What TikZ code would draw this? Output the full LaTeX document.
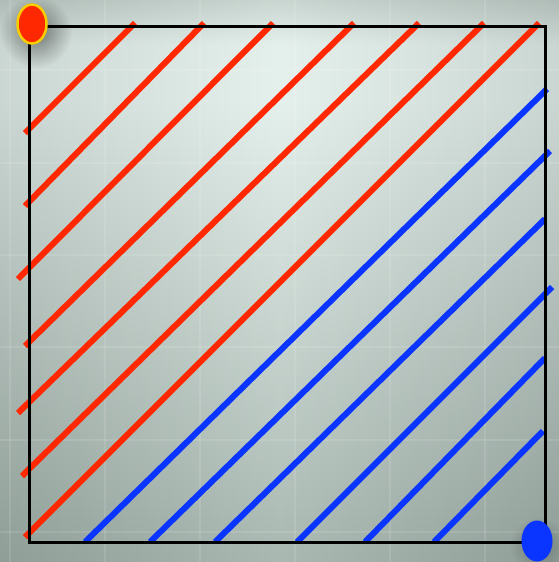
\documentclass[tikz,border=0pt]{standalone}
\usepackage{tikz}
\usepackage{xcolor}
\usetikzlibrary{fadings, shapes.geometric}
\definecolor{hatchRed}{RGB}{255,40,0}
\definecolor{hatchBlue}{RGB}{10,52,255}
\definecolor{bgTop}{RGB}{196,210,204}
\definecolor{bgLight}{RGB}{226,239,234}
\definecolor{bgBottom}{RGB}{160,176,169}
\definecolor{dotYellow}{RGB}{245,205,0}
\tikzfading[name=softout, inner color=transparent!0, outer color=transparent!100]
\pgfdeclareverticalshading{backdrop}{100bp}{color(0bp)=(bgBottom); color(25bp)=(bgBottom);
    color(66bp)=(bgLight); color(71bp)=(bgLight); color(75bp)=(bgTop); color(100bp)=(bgTop)}
\tikzset{
    redline/.style={draw=hatchRed, line width=6pt},
    blueline/.style={draw=hatchBlue, line width=6pt},
    frame/.style={draw=black, line width=3pt},
    gridline/.style={draw=white, opacity=0.11, line width=2pt},
    reddot/.style={ellipse, fill=hatchRed, draw=dotYellow, line width=2.5pt,
        minimum width=29pt, minimum height=39pt, inner sep=0pt},
    bluedot/.style={ellipse, fill=hatchBlue, minimum width=31pt,
        minimum height=41pt, inner sep=0pt},
    glow/.style={fill=black, path fading=softout, opacity=0.45}
}
\begin{document}
\begin{tikzpicture}[x=1pt,y=-1pt]
        \useasboundingbox (0,0) rectangle (559,562);
        \shade[shading=backdrop] (0,0) rectangle (559,562);
        \shade[left color=black, right color=black, middle color=white, opacity=0.1] (0,0) rectangle (559,562);
        \foreach \gx in {10,105,200,295,390,485}
            \draw[gridline] (\gx,0) -- (\gx,562);
        \foreach \gy in {70,163,255,347,440,532}
            \draw[gridline] (0,\gy) -- (559,\gy);

        \draw[redline] (25,133) -- (135,23);
        \draw[redline] (25,206) -- (204,23);
        \draw[redline] (18,279) -- (273,23);
        \draw[redline] (25,346) -- (354,23);
        \draw[redline] (18,413) -- (419,23);
        \draw[redline] (22,476) -- (484,23);
        \draw[redline] (25,537) -- (539,23);

        \draw[blueline] (85,542) -- (547,89);
        \draw[blueline] (150,542) -- (550,151);
        \draw[blueline] (215,542) -- (545,219);
        \draw[blueline] (297,542) -- (552,287);
        \draw[blueline] (365,542) -- (545,358);
        \draw[blueline] (434,542) -- (543,431);

        \draw[frame] (29,26) rectangle (545,542);

        \fill[glow] (36,32) circle (36);
        \fill[glow, opacity=0.25] (538,545) circle (28);
        \node[reddot] (start) at (32,24) {};
        \node[bluedot] (goal) at (537,541) {};
    \end{tikzpicture}
\end{document}
